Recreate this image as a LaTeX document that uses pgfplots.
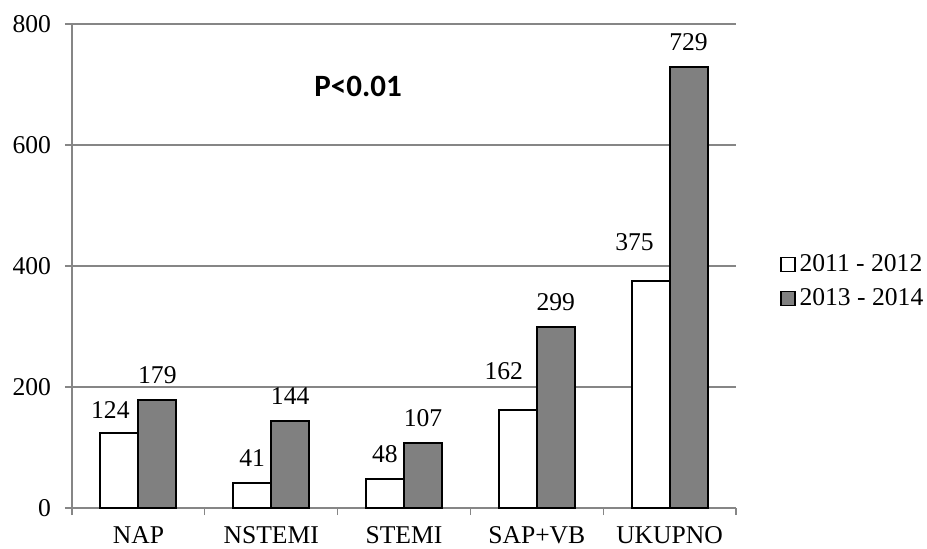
\documentclass[border=0pt]{standalone}
\usepackage{fontspec}
\setmainfont{Liberation Serif}
\newfontfamily\carlito{Carlito}
\usepackage{pgfplots}
\pgfplotsset{compat=1.18}
\definecolor{gridgray}{RGB}{134,134,134}
\definecolor{bargray}{RGB}{128,128,128}
\newcommand\lbl{\fontsize{12.8}{15}\selectfont}
\newcommand\ptxt{\carlito\bfseries\fontsize{15.5}{18}\selectfont}

\begin{document}
\begin{tikzpicture}
\useasboundingbox (-36pt,-20pt) rectangle (427.5pt,254pt);
\begin{axis}[
    scale only axis,
    width=332pt, height=242pt,
    xmin=-0.5, xmax=4.5,
    ymin=0, ymax=800,
    ytick={0,200,...,800},
    yticklabels={0,200,400,600,800},
    xtick={0,...,4},
    xticklabels={NAP,NSTEMI,STEMI,SAP+VB,UKUPNO},
    minor xtick={-0.5,0.5,...,4.5},
    axis lines*=left,
    axis line style={gridgray, line width=0.6pt},
    ymajorgrids,
    grid style={gridgray, line width=0.6pt},
    tick align=outside,
    major tick length=3.5pt,
    minor tick length=3.5pt,
    major x tick style={draw=none},
    minor x tick style={gridgray, line width=0.6pt},
    y tick style={gridgray, line width=0.6pt},
    xticklabel style={font=\lbl, inner sep=2pt, yshift=-3.5pt},
    yticklabel style={font=\lbl, xshift=-3.5pt},
    /pgf/number format/assume math mode=true,
    clip=false,
    legend style={
        at={(rel axis cs:1,0.468)}, anchor=west, xshift=19pt,
        draw=none, fill=none,
        font=\lbl,
        row sep=3pt,
    },
    legend cell align=left,
    legend image code/.code={
        \draw[#1, line width=0.6pt] (0pt,-3.5pt) rectangle (7pt,3.5pt);
    },
    nodes near coords,
    nodes near coords style={font=\lbl, black,
        xshift=\dx pt, yshift=\dy pt},
    visualization depends on={\thisrow{dx} \as \dx},
    visualization depends on={\thisrow{dy} \as \dy},
]
\addplot[ybar, bar width=0.286, bar shift=-0.143,
    draw=black, line width=1pt, fill=white]
    table[x=x, y=y] {
x y   dx    dy
0 124 -14   3.3
1 41  -9.5  4.3
2 48  -9.5  4.3
3 162 -16.5 11.3
4 375 -17.5 11.3
};
\addlegendentry{2011 - 2012}
\addplot[ybar, bar width=0.286, bar shift=0.143,
    draw=black, line width=1pt, fill=bargray]
    table[x=x, y=y] {
x y   dx  dy
0 179 9.5 4.3
1 144 9.5 4.3
2 107 9.5 4.3
3 299 9.5 4.3
4 729 9.5 4.3
};
\addlegendentry{2013 - 2014}
\node[font=\ptxt] at (axis cs:1.654,696) {P<0.01};
\end{axis}
\end{tikzpicture}
\end{document}
